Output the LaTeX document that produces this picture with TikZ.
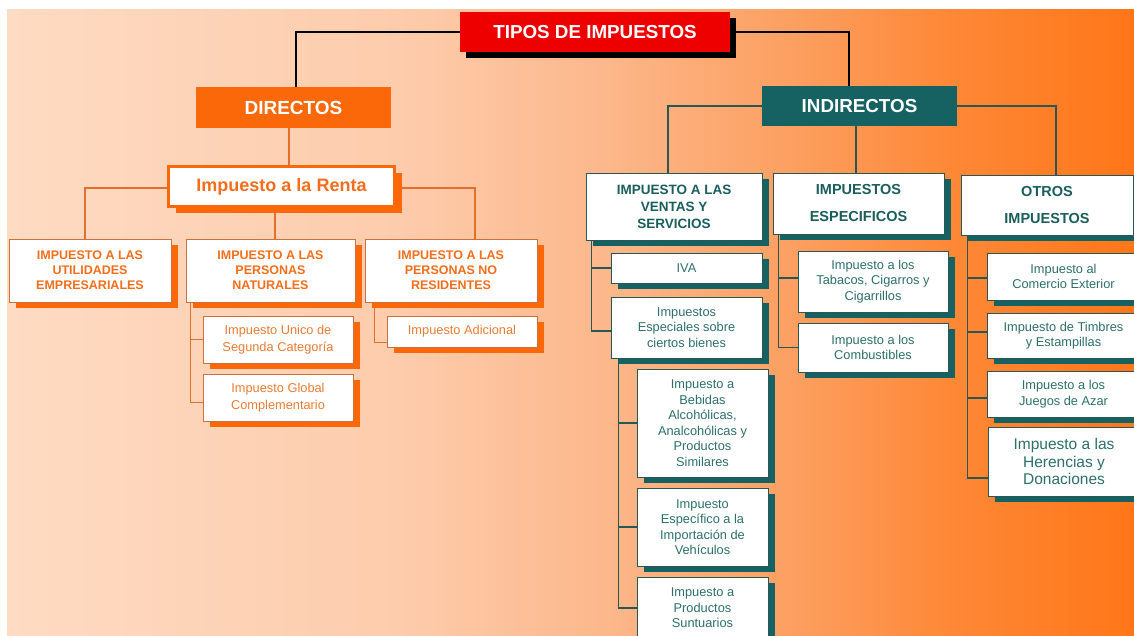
\documentclass[tikz,border=0pt]{standalone}
\usepackage{fontspec}
\setmainfont{Liberation Sans}
\usetikzlibrary{shadows}
\definecolor{bg0}{RGB}{254,219,195}
\definecolor{bg1}{RGB}{253,204,172}
\definecolor{bg2}{RGB}{252,184,140}
\definecolor{bg3}{RGB}{252,158,95}
\definecolor{bg4}{RGB}{254,136,55}
\definecolor{bg5}{RGB}{255,118,24}
\definecolor{redT}{RGB}{238,0,0}
\definecolor{orB}{RGB}{250,104,10}
\definecolor{orT}{RGB}{243,110,28}
\definecolor{orS}{RGB}{236,124,52}
\definecolor{orL}{RGB}{205,112,60}
\definecolor{orC}{RGB}{226,112,45}
\definecolor{tealB}{RGB}{22,98,98}
\definecolor{tealT}{RGB}{26,94,92}
\definecolor{tealS}{RGB}{45,112,106}
\definecolor{tealL}{RGB}{40,88,86}
\pgfdeclarehorizontalshading{bgshade}{100bp}{color(0bp)=(bg0); color(25bp)=(bg0); color(42.4bp)=(bg1); color(51.3bp)=(bg2); color(60.2bp)=(bg3); color(66.8bp)=(bg4); color(75bp)=(bg5); color(100bp)=(bg5)}
\pgfdeclarelayer{back}
\pgfdeclarelayer{lines}
\pgfsetlayers{back,lines,main}
\tikzset{
  sz/.style 2 args={minimum width=#1pt, minimum height=#2pt},
  basebox/.style={align=center, inner sep=0pt, line width=0.8pt, fill=white},
  obox/.style={basebox, draw=orL, text=orT,
    general shadow={fill=orB, draw=none, shadow xshift=7pt, shadow yshift=-6pt}},
  osub/.style={obox, text=orS, font=\fontsize{12.8}{16.5}\selectfont},
  ohead/.style={obox, font=\fontsize{12.5}{15}\selectfont\bfseries},
  tbox/.style={basebox, draw=tealL, text=tealS, font=\fontsize{12.8}{15.5}\selectfont,
    general shadow={fill=tealB, draw=none, shadow xshift=7pt, shadow yshift=-6pt}},
  thead/.style={tbox, text=tealT, font=\fontsize{14.5}{27}\selectfont\bfseries},
  blackline/.style={draw=black, line width=2pt},
  orline/.style={draw=orC, line width=1.3pt},
  tline/.style={draw=tealL, line width=1.6pt},
}
\begin{document}
\begin{tikzpicture}[x=1pt,y=-1pt]
\useasboundingbox (0,0) rectangle (1134,635);
\begin{pgfonlayer}{back}
\fill[white] (0,0) rectangle (1134,635);
\fill[shading=bgshade] (7,9) rectangle (1134,635);
\end{pgfonlayer}

% top level
\node[basebox, fill=redT, draw=none, text=white, sz={270}{40},
  font=\fontsize{18.8}{20}\selectfont\bfseries,
  general shadow={fill=black, draw=none, shadow xshift=6pt, shadow yshift=-6pt}]
  (top) at (595,32) {TIPOS DE IMPUESTOS};
\node[basebox, fill=orB, draw=none, text=white, sz={195}{41},
  font=\fontsize{19}{20}\selectfont\bfseries] (dir) at (293.5,107.5) {DIRECTOS};
\node[basebox, fill=tealB, draw=none, text=white, sz={195}{40},
  font=\fontsize{18.8}{20}\selectfont\bfseries] (ind) at (859.5,106) {INDIRECTOS};

% directos branch
\node[obox, draw=orB, line width=3.5pt, sz={226}{40},
  font=\fontsize{18}{20}\selectfont\bfseries] (renta) at (281.5,186.5) {Impuesto a la Renta};
\node[ohead, sz={162}{63}] (u1) at (90,270.5) {IMPUESTO A LAS\\UTILIDADES\\EMPRESARIALES};
\node[ohead, sz={169}{63}] (u2) at (270.5,270.5) {IMPUESTO A LAS\\PERSONAS\\NATURALES};
\node[ohead, sz={172}{63}] (u3) at (451,270.5) {IMPUESTO A LAS\\PERSONAS NO\\RESIDENTES};
\node[osub, sz={150}{47}] (unico) at (278,339.5) {Impuesto Unico de\\Segunda Categoría};
\node[osub, sz={150}{47}] (global) at (278,397.5) {Impuesto Global\\Complementario};
\node[osub, sz={150}{31}] (adic) at (462,331.5) {Impuesto Adicional};

% indirectos branch
\node[tbox, text=tealT, sz={176}{67}, font=\fontsize{13.5}{17}\selectfont\bfseries]
  (ivs) at (674,206.5) {IMPUESTO A LAS\\VENTAS Y\\SERVICIOS};
\node[thead, sz={171}{61}] (esp) at (858.5,203.5) {IMPUESTOS\\ESPECIFICOS};
\node[thead, sz={172}{60}] (otros) at (1047,205) {OTROS\\IMPUESTOS};

\node[tbox, sz={151}{30}] (iva) at (686.5,268) {IVA};
\node[tbox, sz={151}{61}] (espec) at (686.5,327.5) {Impuestos\\Especiales sobre\\ciertos bienes};
\node[tbox, sz={131}{108}] (beb) at (702.5,423) {Impuesto a\\Bebidas\\Alcohólicas,\\Analcohólicas y\\Productos\\Similares};
\node[tbox, sz={131}{78}] (veh) at (702.5,527) {Impuesto\\Específico a la\\Importación de\\Vehículos};
\node[tbox, sz={131}{62}] (sunt) at (702.5,608) {Impuesto a\\Productos\\Suntuarios};

\node[tbox, sz={150}{61}] (tab) at (873,281.5) {Impuesto a los\\Tabacos, Cigarros y\\Cigarrillos};
\node[tbox, sz={150}{49}] (comb) at (873,347.5) {Impuesto a los\\Combustibles};

\node[tbox, sz={153}{47}] (com) at (1063.5,276.5) {Impuesto al\\Comercio Exterior};
\node[tbox, sz={153}{45}] (tim) at (1063.5,335.5) {Impuesto de Timbres\\y Estampillas};
\node[tbox, sz={153}{46}] (jue) at (1063.5,394) {Impuesto a los\\Juegos de Azar};
\node[tbox, sz={152}{69}, font=\fontsize{15.5}{17.5}\selectfont] (her) at (1064,461.5) {Impuesto a las\\Herencias y\\Donaciones};

% connectors
\begin{pgfonlayer}{lines}
\draw[blackline] (top.west) -| ([xshift=2.5pt]dir.north);
\draw[blackline] (top.east) -| ([xshift=-10.5pt]ind.north);

\draw[orline] ([xshift=-4.5pt]dir.south) -- ([xshift=-4.5pt]dir.south |- renta.north);
\draw[orline] ([yshift=-1.5pt]renta.west) -| ([xshift=-5pt]u1.north);
\draw[orline] ([xshift=4.5pt]u2.north) -- ([xshift=4.5pt]u2.north |- renta.south);
\draw[orline] ([yshift=-1.5pt]renta.east) -| ([xshift=24pt]u3.north);
\draw[orline] ([xshift=5pt]u2.south west) |- (unico.west)
              ([xshift=5pt]u2.south west) |- ([yshift=-5pt]global.west);
\draw[orline] ([xshift=10pt]u3.south west) |- ([yshift=-11pt]adic.west);

\draw[tline] (ind.west) -| ([xshift=-6pt]ivs.north);
\draw[tline] ([xshift=-3.5pt]ind.south) -- ([xshift=-3.5pt]ind.south |- esp.north);
\draw[tline] (ind.east) -| ([xshift=9pt]otros.north);
\draw[tline] ([xshift=6pt]ivs.south west) |- (iva.west)
             ([xshift=6pt]ivs.south west) |- ([yshift=-3.5pt]espec.west);
\draw[tline] ([xshift=8pt]espec.south west) |- (beb.west)
             ([xshift=8pt]espec.south west) |- (veh.west)
             ([xshift=8pt]espec.south west) |- (sunt.west);
\draw[tline] ([xshift=6pt]esp.south west) |- ([yshift=3.5pt]tab.west)
             ([xshift=6pt]esp.south west) |- (comb.west);
\draw[tline] ([xshift=7pt]otros.south west) |- ([yshift=-1.5pt]com.west)
             ([xshift=7pt]otros.south west) |- ([yshift=3.5pt]tim.west)
             ([xshift=7pt]otros.south west) |- ([yshift=-4pt]jue.west)
             ([xshift=7pt]otros.south west) |- ([yshift=-16.5pt]her.west);
\end{pgfonlayer}
\end{tikzpicture}
\end{document}
